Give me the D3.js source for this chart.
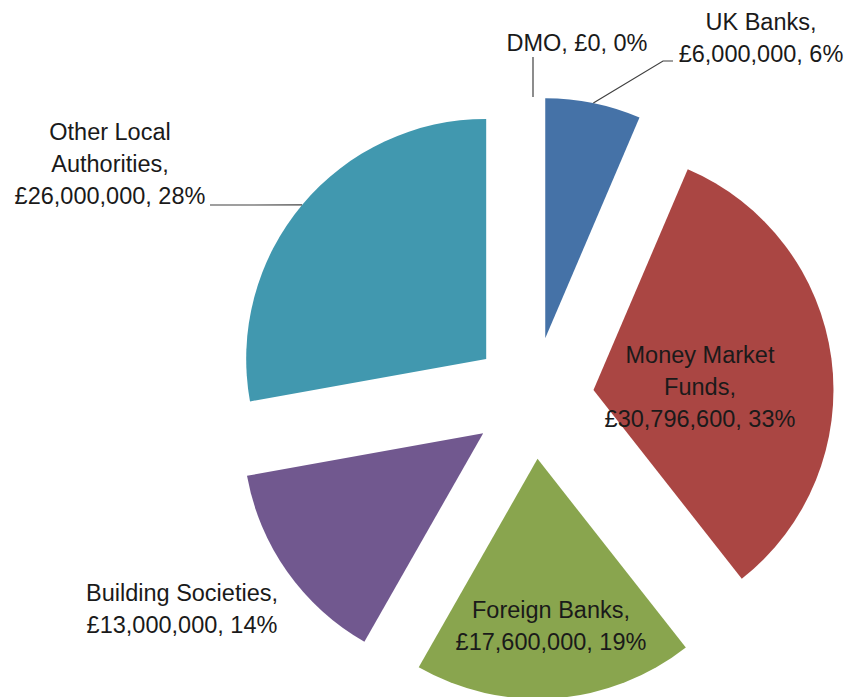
<!DOCTYPE html>
<html>
<head>
<meta charset="utf-8">
<script src="https://cdn.jsdelivr.net/npm/d3@7/dist/d3.min.js"></script>
<style>
  html, body { margin: 0; padding: 0; background: #fff; }
  svg { display: block; }
  text { font-family: "Liberation Sans", Arial, sans-serif; font-size: 23.5px; fill: #1a1a1a; }
</style>
</head>
<body>
<svg id="chart" width="851" height="697"></svg>
<script>
// ---- data ----
const categories = ["DMO", "UK Banks", "Money Market Funds", "Foreign Banks", "Building Societies", "Other Local Authorities"];
const values = [0, 6000000, 30796600, 17600000, 13000000, 26000000];
const colors = ["#4572A7", "#4572A7", "#AA4643", "#89A54E", "#71588F", "#4198AF"];

// ---- layout (label positions, word breaks per line, leader lines) ----
const labelX = [577, 761, 700, 551, 182, 110];
const labelY = [51, 30, 363, 618, 601, 140];
const labelBreaks = [[3], [2, 2], [2, 1, 2], [2, 2], [2, 2], [2, 1, 2]];
const leaderStart = [[533, 57], [673, 61], null, null, null, [210, 205]];
const leaderElbow = [null, [663, 61], null, null, null, null];

const W = 851, H = 697;
const cx = 533, cy = 398, radius = 240, explode = 61, lineH = 32;

const svg = d3.select("#chart");
const total = d3.sum(values);
const data = categories.map((c, i) => ({ name: c, value: values[i], i }));

const pie = d3.pie().sort(null).value(d => d.value).startAngle(0).endAngle(2 * Math.PI);
const arcs = pie(data);
const arc = d3.arc().innerRadius(0).outerRadius(radius);

const g = svg.append("g").attr("transform", `translate(${cx},${cy})`);

function offset(a) {
  const m = (a.startAngle + a.endAngle) / 2;
  return [explode * Math.sin(m), -explode * Math.cos(m)];
}

g.selectAll("path.slice")
  .data(arcs.filter(a => a.value > 0))
  .join("path")
  .attr("class", "slice")
  .attr("d", arc)
  .attr("fill", a => colors[a.data.i])
  .attr("transform", a => { const o = offset(a); return `translate(${o[0]},${o[1]})`; });

// leader lines
const fmt = d3.format(",");
arcs.forEach(a => {
  const i = a.data.i;
  if (!leaderStart[i]) return;
  const m = (a.startAngle + a.endAngle) / 2;
  const ex = cx + (explode + radius) * Math.sin(m);
  const ey = cy - (explode + radius) * Math.cos(m);
  const pts = [leaderStart[i]];
  if (leaderElbow[i]) pts.push(leaderElbow[i]);
  pts.push([ex, ey]);
  svg.append("path")
    .attr("d", d3.line()(pts))
    .attr("fill", "none")
    .attr("stroke", "#404040")
    .attr("stroke-width", 1.2);
});

// labels
arcs.forEach(a => {
  const i = a.data.i;
  const pct = Math.round(a.data.value / total * 100);
  const words = (a.data.name + ", £" + fmt(a.data.value) + ", " + pct + "%").split(" ");
  const lines = [];
  let k = 0;
  labelBreaks[i].forEach(n => { lines.push(words.slice(k, k + n).join(" ")); k += n; });
  const t = svg.append("text")
    .attr("text-anchor", "middle");
  lines.forEach((ln, j) => {
    t.append("tspan").attr("x", labelX[i]).attr("y", labelY[i] + j * lineH).text(ln);
  });
});
</script>
</body>
</html>
